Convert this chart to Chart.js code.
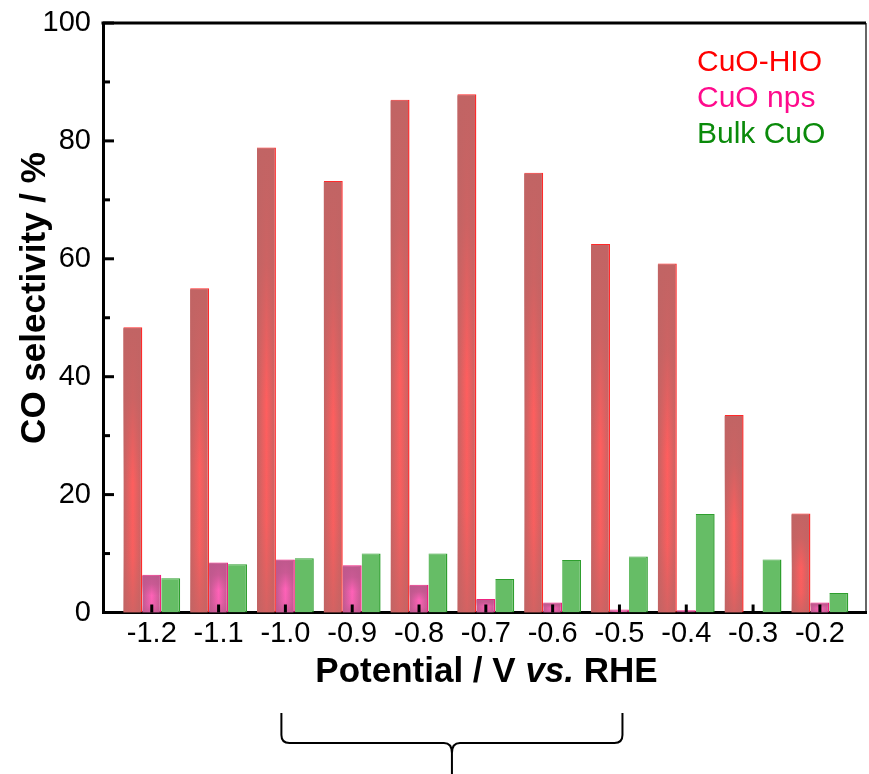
<!DOCTYPE html>
<html>
<head>
<meta charset="utf-8">
<script src="https://cdn.jsdelivr.net/npm/chart.js@4.4.0/dist/chart.umd.min.js"></script>
<style>
  html, body { margin: 0; padding: 0; background: #fff; }
</style>
</head>
<body>
<canvas id="barChart" width="869" height="774"></canvas>
<script>
const potentials = [-1.2, -1.1, -1.0, -0.9, -0.8, -0.7, -0.6, -0.5, -0.4, -0.3, -0.2];
const cuoHio = [48.4, 55.0, 78.9, 73.2, 87.0, 87.9, 74.6, 62.5, 59.2, 33.5, 16.8];
const cuoNps = [6.4, 8.5, 9.0, 8.0, 4.7, 2.3, 1.7, 0.5, 0.4, 0, 1.7];
const bulkCuo = [5.8, 8.2, 9.2, 10.0, 10.0, 5.7, 8.9, 9.5, 16.7, 9.0, 3.3];
const yTicks = [0, 20, 40, 60, 80, 100];
const seriesNames = ["CuO-HIO", "CuO nps", "Bulk CuO"];
const legendColors = ["#ff0000", "#ff0a8c", "#0a8a0a"];
const braceRange = [-1.0, -0.5];

const FONT = "'Liberation Sans', Arial, sans-serif";
Chart.defaults.font.family = FONT;
Chart.defaults.color = "#000";

function points(values) {
  return potentials.map((p, i) => ({ x: p, y: values[i] }));
}

// horizontal "cylinder" fill, needs the bar position from a previous update
function barFill(edge, center) {
  return (c) => {
    const el = c.element;
    if (!el || el.x == null || !el.width) return edge;
    const g = c.chart.ctx.createLinearGradient(el.x - el.width / 2, 0, el.x + el.width / 2, 0);
    g.addColorStop(0, edge);
    g.addColorStop(0.5, center);
    g.addColorStop(1, edge);
    return g;
  };
}

// darkens top and bottom of the bar so the bright part sits in the middle
const shadePlugin = {
  id: "shade",
  afterDatasetsDraw(chart) {
    const ctx = chart.ctx;
    chart.data.datasets.forEach((ds, i) => {
      if (!ds.shade) return;
      chart.getDatasetMeta(i).data.forEach((bar) => {
        const { x, y, base, width } = bar.getProps(["x", "y", "base", "width"], true);
        const h = base - y;
        if (h < 3) return;
        const g = ctx.createLinearGradient(0, y, 0, base);
        g.addColorStop(0, "rgba(" + ds.shade + ",1)");
        g.addColorStop(0.25, "rgba(" + ds.shade + ",0.8)");
        g.addColorStop(0.55, "rgba(" + ds.shade + ",0)");
        g.addColorStop(0.8, "rgba(" + ds.shade + ",0.1)");
        g.addColorStop(1, "rgba(" + ds.shade + ",0.7)");
        ctx.save();
        ctx.fillStyle = g;
        ctx.fillRect(x - width / 2, y + 1, width - 1.5, h - 1);
        ctx.restore();
      });
    });
  },
};

const framePlugin = {
  id: "frame",
  afterDraw(chart) {
    const { ctx, chartArea: a, scales } = chart;
    ctx.save();
    ctx.strokeStyle = "#000";

    // top and right border
    ctx.lineWidth = 3;
    ctx.beginPath();
    ctx.moveTo(a.left - 1.5, a.top);
    ctx.lineTo(a.right, a.top);
    ctx.stroke();
    ctx.lineWidth = 1.2;
    ctx.beginPath();
    ctx.moveTo(a.right, a.top);
    ctx.lineTo(a.right, a.bottom);
    ctx.stroke();

    // inward ticks
    ctx.lineWidth = 3;
    scales.y.ticks.forEach((t) => {
      const py = scales.y.getPixelForValue(t.value);
      const len = yTicks.includes(t.value) ? 11 : 7;
      ctx.beginPath();
      ctx.moveTo(a.left, py);
      ctx.lineTo(a.left + len, py);
      ctx.stroke();
    });
    scales.x.ticks.forEach((t) => {
      const px = scales.x.getPixelForValue(t.value);
      ctx.beginPath();
      ctx.moveTo(px, a.bottom);
      ctx.lineTo(px, a.bottom - 8);
      ctx.stroke();
    });

    // legend, text only
    ctx.font = "30px " + FONT;
    ctx.textBaseline = "middle";
    ctx.textAlign = "left";
    chart.data.datasets.forEach((ds, i) => {
      ctx.fillStyle = legendColors[i];
      ctx.fillText(ds.label, 697, 63 + i * 36);
    });

    // x title with italic "vs."
    ctx.fillStyle = "#000";
    const parts = [
      ["Potential / V ", "bold 35px " + FONT],
      ["vs.", "italic bold 35px " + FONT],
      [" RHE", "bold 35px " + FONT],
    ];
    let total = 0;
    parts.forEach((p) => { ctx.font = p[1]; total += ctx.measureText(p[0]).width; });
    let tx = (a.left + a.right) / 2 + 2 - total / 2;
    parts.forEach((p) => {
      ctx.font = p[1];
      ctx.fillText(p[0], tx, 672);
      tx += ctx.measureText(p[0]).width;
    });

    // y title
    ctx.save();
    ctx.translate(35, 298);
    ctx.rotate(-Math.PI / 2);
    ctx.textAlign = "center";
    ctx.font = "bold 35px " + FONT;
    ctx.fillText("CO selectivity / %", 0, 0);
    ctx.restore();

    // brace under the axis title
    const l = scales.x.getPixelForValue(braceRange[0]) - 4;
    const r = scales.x.getPixelForValue(braceRange[1]) + 3;
    const m = (l + r) / 2;
    const top = 713, mid = 743, tip = 774;
    ctx.lineWidth = 2;
    ctx.beginPath();
    ctx.moveTo(l, top);
    ctx.lineTo(l, mid - 8);
    ctx.quadraticCurveTo(l, mid, l + 8, mid);
    ctx.lineTo(m - 8, mid);
    ctx.quadraticCurveTo(m, mid, m, mid + 10);
    ctx.lineTo(m, tip);
    ctx.moveTo(m, mid + 10);
    ctx.quadraticCurveTo(m, mid, m + 8, mid);
    ctx.lineTo(r - 8, mid);
    ctx.quadraticCurveTo(r, mid, r, mid - 8);
    ctx.lineTo(r, top);
    ctx.stroke();

    ctx.restore();
  },
};

const myChart = new Chart(document.getElementById("barChart").getContext("2d"), {
  type: "bar",
  data: {
    datasets: [
      {
        label: seriesNames[0],
        data: points(cuoHio),
        backgroundColor: barFill("#c26464", "#ff5e5e"),
        borderColor: "#ff2a2a",
        borderWidth: { top: 1, right: 1.5, left: 0, bottom: 0 },
        borderSkipped: "bottom",
        shade: "193,100,100",
      },
      {
        label: seriesNames[1],
        data: points(cuoNps),
        backgroundColor: barFill("#bf5a8e", "#ff62b8"),
        borderColor: "#f0207e",
        borderWidth: { top: 1, right: 1.5, left: 0, bottom: 0 },
        borderSkipped: "bottom",
        shade: "190,88,140",
      },
      {
        label: seriesNames[2],
        data: points(bulkCuo),
        backgroundColor: "#66bd66",
        borderColor: "#2e9e2e",
        borderWidth: { top: 1, right: 1.5, left: 0, bottom: 0 },
        borderSkipped: "bottom",
      },
    ],
  },
  plugins: [shadePlugin, framePlugin],
  options: {
    responsive: false,
    animation: false,
    events: [],
    layout: { padding: { left: 0, top: 23, right: 3, bottom: 0 } },
    datasets: {
      bar: { categoryPercentage: 0.85, barPercentage: 1.0, grouped: true },
    },
    plugins: {
      legend: { display: false },
      tooltip: { enabled: false },
    },
    scales: {
      x: {
        type: "linear",
        offset: false,
        min: -1.273,
        max: -0.131,
        afterBuildTicks: (s) => { s.ticks = potentials.map((v) => ({ value: v })); },
        afterFit: (s) => {
          s.height = 161.5;
          s.paddingLeft = 0;
          s.paddingRight = 0;
        },
        ticks: {
          font: { size: 29 },
          color: "#000",
          padding: 4,
          maxRotation: 0,
          autoSkip: false,
          callback: (v) => Number(v).toFixed(1),
        },
        grid: { display: false, drawTicks: false },
        border: { display: true, width: 3, color: "#000" },
      },
      y: {
        min: 0,
        max: 100,
        afterFit: (s) => {
          s.width = 103;
          s.paddingTop = 0;
          s.paddingBottom = 0;
        },
        ticks: {
          stepSize: 10,
          font: { size: 29 },
          color: "#000",
          padding: 12,
          callback: (v) => (yTicks.includes(v) ? v : ""),
        },
        grid: { display: false, drawTicks: false },
        border: { display: true, width: 3, color: "#000" },
      },
    },
  },
});

// second pass so the gradients can read bar positions
myChart.update();
</script>
</body>
</html>
